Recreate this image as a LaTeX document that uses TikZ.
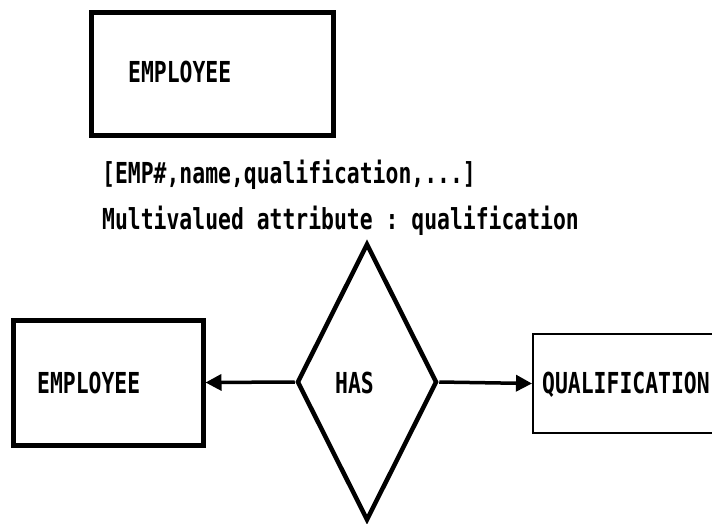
\documentclass[tikz,border=0pt]{standalone}
\usepackage{fontspec}
\setmonofont{DejaVu Sans Mono}
\usetikzlibrary{shapes.geometric,arrows.meta}
\newcommand\pix[1]{\scalebox{1}[1.35]{\ttfamily\bfseries\fontsize{21.4}{22}\selectfont #1}}
\begin{document}
\begin{tikzpicture}[x=1pt,y=-1pt,
  thickbox/.style={draw,line width=5pt,inner sep=0pt},
  thinbox/.style={draw,line width=2pt,inner sep=0pt},
  txt/.style={inner sep=0pt,anchor=base west},
  relship/.style={draw,diamond,line width=4.5pt,inner sep=0pt,minimum width=140pt,minimum height=277pt},
  conn/.style={line width=3.5pt,-{Triangle[length=16pt,width=16pt]}}]
\useasboundingbox (0,0) rectangle (712,523);
\clip (0,0) rectangle (712,523);
\fill[white] (0,0) rectangle (712,523);
% top entity
\node[thickbox,minimum width=242pt,minimum height=123pt] (emp1) at (212,73.5) {};
\node[txt] (emp1t) at (128,82) {\pix{EMPLOYEE}};
% attribute text
\node[txt] (attr1) at (102,183) {\pix{[EMP\#,name,qualification,...]}};
\node[txt] (attr2) at (102,229) {\pix{Multivalued attribute : qualification}};
% relationship diagram
\node[thickbox,minimum width=190pt,minimum height=125pt] (emp2) at (108,382.5) {};
\node[txt] (emp2t) at (37,393) {\pix{EMPLOYEE}};
\node[relship] (has) at (367,382) {};
\node[txt] (hast) at (335,393) {\pix{HAS}};
\node[thinbox,minimum width=220pt,minimum height=99pt,anchor=west] (qual) at (532,383.5) {};
\node[txt] (qualt) at (542,393) {\pix{QUALIFICATION}};
\draw[conn] (has.west) -- (emp2.east);
\draw[conn] (has.east) -- (qual.west);
\end{tikzpicture}
\end{document}
